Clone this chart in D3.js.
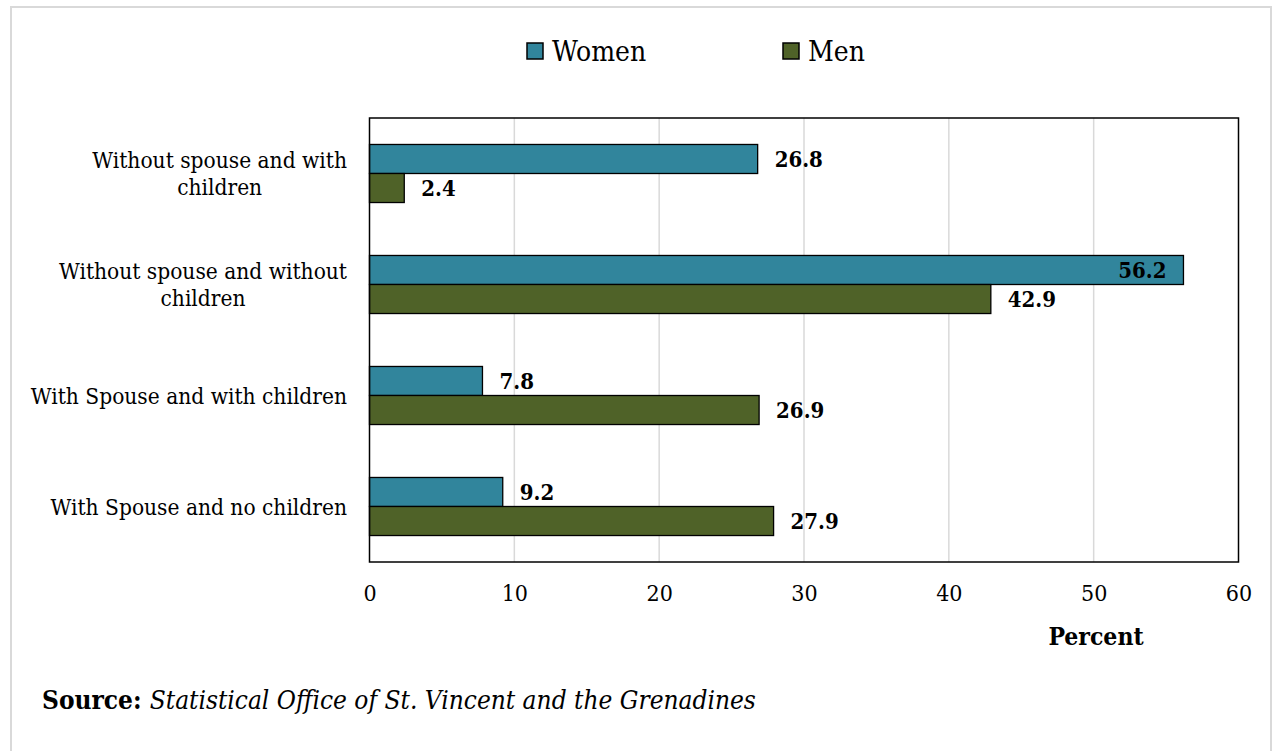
<!DOCTYPE html>
<html>
<head>
<meta charset="utf-8">
<script src="https://cdn.jsdelivr.net/npm/d3@7"></script>
<style>
  body { margin: 0; background: #fff; }
  svg text { font-family: "DejaVu Serif Condensed", "DejaVu Serif", serif; font-stretch: condensed; fill: #000; }
</style>
</head>
<body>
<svg id="chart" width="1272" height="751"></svg>
<script>
// Living arrangements by sex (percent)
const categories = [
    'Without spouse and with children',
    'Without spouse and without children',
    'With Spouse and with children',
    'With Spouse and no children'
];
const series = ['Women', 'Men'];
const women = [26.8, 56.2, 7.8, 9.2];
const men = [2.4, 42.9, 26.9, 27.9];
const xTicks = [0, 10, 20, 30, 40, 50, 60];

const colors = { Women: '#31859C', Men: '#4F6228' };
const values = { Women: women, Men: men };

const svg = d3.select('#chart');
const W = 1272, H = 751;
const margin = { left: 369.5, right: W - 1238.5, top: 118, bottom: H - 562 };

svg.append('rect').attr('width', W).attr('height', H).attr('fill', '#fff');
// outer frame
svg.append('rect')
    .attr('x', 11).attr('y', 7)
    .attr('width', 1260).attr('height', 800)
    .attr('fill', 'none').attr('stroke', '#d9d9d9').attr('stroke-width', 2);

const x = d3.scaleLinear().domain([0, 60]).range([margin.left, W - margin.right]);
const y = d3.scaleBand().domain(categories)
    .range([margin.top, H - margin.bottom])
    .paddingInner(0.477).paddingOuter(0.2385);
const ySub = d3.scaleBand().domain(series).range([0, y.bandwidth()]);

// gridlines
svg.append('g')
    .selectAll('line')
    .data(xTicks.filter(t => t > 0 && t < 60))
    .enter().append('line')
    .attr('x1', d => x(d)).attr('x2', d => x(d))
    .attr('y1', margin.top).attr('y2', H - margin.bottom)
    .attr('stroke', '#d9d9d9').attr('stroke-width', 1.5);

// x axis labels
const xAxis = d3.axisBottom(x).tickValues(xTicks).tickSize(0).tickPadding(0);
const gx = svg.append('g')
    .attr('transform', `translate(0,${H - margin.bottom})`)
    .call(xAxis);
gx.select('.domain').remove();
gx.selectAll('text')
    .attr('y', 39).attr('dy', null)
    .style('font-size', '23px');

// bars
const groups = svg.append('g').selectAll('g')
    .data(categories)
    .enter().append('g')
    .attr('transform', d => `translate(0,${y(d)})`);

series.forEach(s => {
    groups.append('rect')
        .attr('x', x(0))
        .attr('y', ySub(s))
        .attr('width', (d, i) => x(values[s][i]) - x(0))
        .attr('height', ySub.bandwidth())
        .attr('fill', colors[s])
        .attr('stroke', '#000').attr('stroke-width', 1.3);
});

// value labels
const plotRight = W - margin.right;
series.forEach(s => {
    groups.append('text')
        .attr('class', 'value')
        .attr('y', ySub(s) + ySub.bandwidth() / 2 + 8)
        .style('font-size', '22px').style('font-weight', 'bold')
        .text((d, i) => values[s][i].toFixed(1))
        .each(function(d, i) {
            const end = x(values[s][i]);
            const w = this.getComputedTextLength();
            const t = d3.select(this);
            if (end + 17 + w > plotRight) {
                t.attr('x', end - 17).attr('text-anchor', 'end');
            } else {
                t.attr('x', end + 17);
            }
        });
});

// plot frame
svg.append('rect')
    .attr('x', margin.left).attr('y', margin.top)
    .attr('width', plotRight - margin.left)
    .attr('height', H - margin.bottom - margin.top)
    .attr('fill', 'none').attr('stroke', '#000').attr('stroke-width', 1.5);

// category labels (wrapped, centred block, right edge near axis)
const labelRight = 347, lineH = 27, wrapW = 330;
categories.forEach(c => {
    const t = svg.append('text').style('font-size', '22.5px').attr('text-anchor', 'middle');
    const words = c.split(' ');
    const lines = [];
    let cur = [];
    words.forEach(wd => {
        cur.push(wd);
        t.text(cur.join(' '));
        if (t.node().getComputedTextLength() > wrapW && cur.length > 1) {
            cur.pop();
            lines.push(cur.join(' '));
            cur = [wd];
        }
    });
    lines.push(cur.join(' '));
    const maxW = d3.max(lines, l => { t.text(l); return t.node().getComputedTextLength(); });
    t.text(null);
    const cx = labelRight - maxW / 2;
    const cy = y(c) + y.bandwidth() / 2;
    lines.forEach((l, i) => {
        t.append('tspan')
            .attr('x', cx)
            .attr('y', cy + (i - (lines.length - 1) / 2) * lineH + 8)
            .text(l);
    });
});

// legend
const legendPos = { Women: 527, Men: 783 };
series.forEach(s => {
    svg.append('rect')
        .attr('x', legendPos[s]).attr('y', 43)
        .attr('width', 16).attr('height', 16)
        .attr('fill', colors[s]).attr('stroke', '#000').attr('stroke-width', 1.5);
    svg.append('text')
        .attr('x', legendPos[s] + 25).attr('y', 61)
        .style('font-size', '28px')
        .text(s);
});

// axis title
svg.append('text')
    .attr('x', 1096).attr('y', 645)
    .attr('text-anchor', 'middle')
    .style('font-size', '24.5px').style('font-weight', 'bold')
    .text('Percent');

// source note
const src = svg.append('text').attr('x', 42).attr('y', 709).style('font-size', '26px');
src.append('tspan').style('font-weight', 'bold').text('Source: ');
src.append('tspan').style('font-style', 'italic').text('Statistical Office of St. Vincent and the Grenadines');
</script>
</body>
</html>
